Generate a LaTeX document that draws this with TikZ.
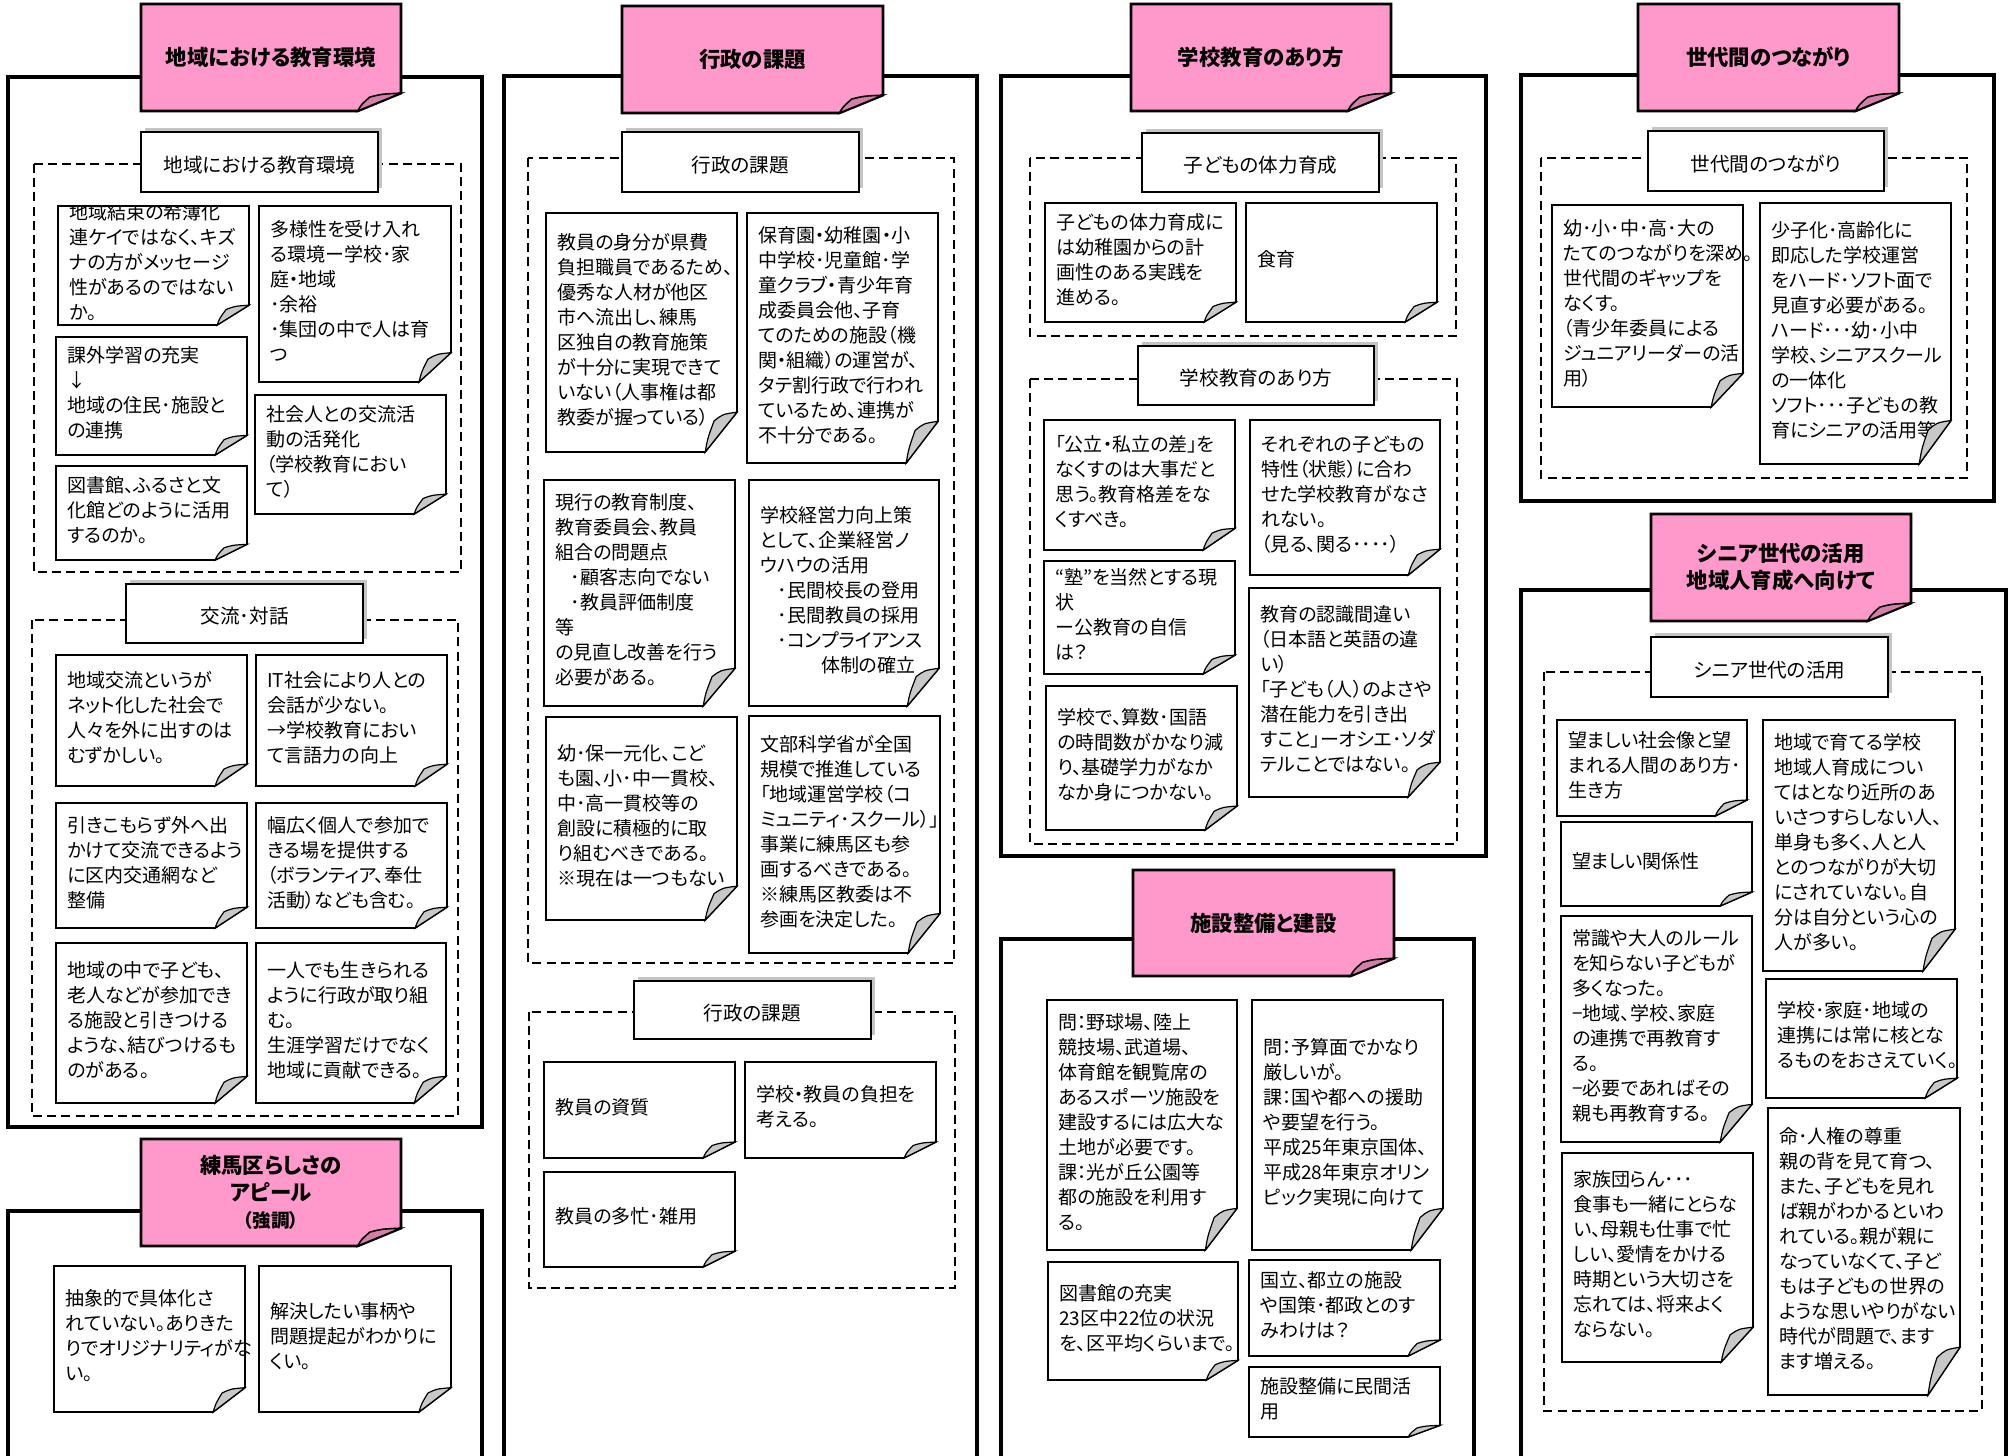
\documentclass[tikz,border=0pt]{standalone}
\usepackage{fontspec}
\setmainfont{Noto Sans CJK JP}[RawFeature=+palt]
\definecolor{pinkfill}{HTML}{FF99CC}
\definecolor{pinkfold}{HTML}{D47FAA}
\definecolor{foldgray}{HTML}{C8C8C8}
\definecolor{shadowgray}{HTML}{C4C4C4}
\tikzset{
  outerframe/.style={draw=black, line width=1.7pt},
  dashframe/.style={draw=black, line width=1.3pt, dash pattern=on 4.5pt off 2.6pt},
  notebody/.style={draw=black, fill=white, line width=0.8pt},
  notefold/.style={draw=black, fill=foldgray, line width=0.6pt},
  titlebody/.style={draw=black, fill=pinkfill, line width=1.3pt},
  titlefold/.style={draw=black, fill=pinkfold, line width=0.8pt},
  subbox/.style={draw=black, fill=white, line width=0.9pt},
  subshadow/.style={fill=shadowgray},
  notetext/.style={font=\fontsize{9.5}{12.5}\selectfont, align=left, inner sep=0pt, anchor=west},
  subtext/.style={font=\fontsize{9.8}{12}\selectfont, inner sep=0pt},
  titletext/.style={font=\fontsize{10.7}{13.5}\selectfont\bfseries, align=center, inner sep=0pt},
}
% note: name x1 y1 x2 y2 text
\newcommand{\notebox}[6]{%
  \pgfmathsetmacro{\fw}{(#4-#2)/6}\pgfmathsetmacro{\fh}{(#5-#3)/6}%
  \draw[notebody] (#2,#3) -- (#4,#3) -- (#4,#5-\fh) -- (#4-\fw,#5) -- (#2,#5) -- cycle;
  \begin{scope}
    \clip (#2,#3) rectangle (#4+30,#5);
    \node[notetext] (#1) at (#2+11,{(#3+#5)/2-3}) {#6};
  \end{scope}
  \filldraw[notefold] (#4-\fw,#5) .. controls (#4-0.92*\fw,#5-0.35*\fh) .. (#4-0.72*\fw,#5-0.78*\fh)
     .. controls (#4-0.45*\fw,#5-0.95*\fh) .. (#4,#5-\fh) -- cycle;
}
% title: name x1 y1 x2 y2 text
\newcommand{\titlebox}[6]{%
  \pgfmathsetmacro{\fw}{(#4-#2)/6}\pgfmathsetmacro{\fh}{(#5-#3)/6}%
  \draw[titlebody] (#2,#3) -- (#4,#3) -- (#4,#5-\fh) -- (#4-\fw,#5) -- (#2,#5) -- cycle;
  \filldraw[titlefold] (#4-\fw,#5) .. controls (#4-0.92*\fw,#5-0.35*\fh) .. (#4-0.72*\fw,#5-0.78*\fh)
     .. controls (#4-0.45*\fw,#5-0.95*\fh) .. (#4,#5-\fh) -- cycle;
  \node[titletext] (#1) at ({(#2+#4)/2},{(#3+#5)/2}) {#6};
}
% subheader: name x1 y1 x2 y2 text
\newcommand{\subhead}[6]{%
  \fill[subshadow] (#2+4,#3-4) rectangle (#4+4,#5-4);
  \filldraw[subbox] (#2,#3) rectangle (#4,#5);
  \node[subtext] (#1) at ({(#2+#4)/2},{(#3+#5)/2+3}) {#6};
}
\begin{document}
\begin{tikzpicture}[x=0.5pt,y=-0.5pt]
\useasboundingbox (0,0) rectangle (2015,1456);
\fill[white] (0,0) rectangle (2015,1456);

% ---------------- Column 1 ----------------
\draw[outerframe] (8,77) rectangle (482,1127);
\draw[dashframe] (34,164) rectangle (461,572);
\draw[dashframe] (32,620) rectangle (458,1116);
\draw[outerframe] (8,1211) rectangle (482,1470);

\subhead{s1a}{141}{132}{378}{192}{地域における教育環境}
\notebox{n1a1}{58}{206}{249}{325}{地域結束の希薄化\\連ケイではなく、キズ\\ナの方がメッセージ\\性があるのではない\\か。}
\notebox{n1a2}{259}{206}{451}{382}{多様性を受け入れ\\る環境ー学校･家\\庭・地域\\･余裕\\･集団の中で人は育\\つ}
\notebox{n1a3}{56}{337}{247}{455}{課外学習の充実\\↓\\地域の住民･施設と\\の連携}
\notebox{n1a4}{255}{395}{446}{514}{社会人との交流活\\動の活発化\\（学校教育におい\\て）}
\notebox{n1a5}{56}{466}{247}{560}{図書館、ふるさと文\\化館どのように活用\\するのか。}

\subhead{s1b}{126}{584}{363}{643}{交流･対話}
\notebox{n1b1}{56}{655}{247}{786}{地域交流というが\\ネット化した社会で\\人々を外に出すのは\\むずかしい。}
\notebox{n1b2}{256}{655}{447}{786}{IT社会により人との\\会話が少ない。\\→学校教育におい\\て言語力の向上}
\notebox{n1b3}{56}{803}{247}{928}{引きこもらず外へ出\\かけて交流できるよう\\に区内交通網など\\整備}
\notebox{n1b4}{256}{803}{447}{928}{幅広く個人で参加で\\きる場を提供する\\（ボランティア、奉仕\\活動）なども含む。}
\notebox{n1b5}{56}{943}{247}{1103}{地域の中で子ども、\\老人などが参加でき\\る施設と引きつける\\ような、結びつけるも\\のがある。}
\notebox{n1b6}{256}{943}{446}{1103}{一人でも生きられる\\ように行政が取り組\\む。\\生涯学習だけでなく\\地域に貢献できる。}

\notebox{n1c1}{54}{1266}{245}{1412}{抽象的で具体化さ\\れていない。ありきた\\りでオリジナリティがな\\い。}
\notebox{n1c2}{259}{1266}{451}{1412}{解決したい事柄や\\問題提起がわかりに\\くい。}

\titlebox{t1a}{141}{4}{401}{111}{地域における教育環境}
\titlebox{t1b}{141}{1139}{401}{1246}{練馬区らしさの\\アピール\\{\fontsize{9.3}{12}\selectfont （強調）}}

% ---------------- Column 2 ----------------
\draw[outerframe] (504,76) rectangle (977,1470);
\draw[dashframe] (528,158) rectangle (954,963);
\draw[dashframe] (529,1012) rectangle (955,1288);

\subhead{s2a}{622}{132}{859}{192}{行政の課題}
\notebox{n2a1}{546}{213}{737}{452}{教員の身分が県費\\負担職員であるため、\\優秀な人材が他区\\市へ流出し、練馬\\区独自の教育施策\\が十分に実現できて\\いない（人事権は都\\教委が握っている）}
\notebox{n2a2}{747}{213}{938}{463}{保育園・幼稚園・小\\中学校･児童館･学\\童クラブ・青少年育\\成委員会他、子育\\てのための施設（機\\関・組織）の運営が、\\タテ割行政で行われ\\ているため、連携が\\不十分である。}
\notebox{n2a3}{544}{480}{735}{706}{現行の教育制度、\\教育委員会、教員\\組合の問題点\\\hspace*{0.8em}･顧客志向でない\\\hspace*{0.8em}･教員評価制度\\等\\の見直し改善を行う\\必要がある。}
\notebox{n2a4}{749}{480}{939}{706}{学校経営力向上策\\として、企業経営ノ\\ウハウの活用\\\hspace*{0.9em}･民間校長の登用\\\hspace*{0.9em}･民間教員の採用\\\hspace*{0.9em}･コンプライアンス\\\hspace*{3.2em}体制の確立}
\notebox{n2a5}{546}{717}{737}{920}{幼･保一元化、こど\\も園、小･中一貫校、\\中･高一貫校等の\\創設に積極的に取\\り組むべきである。\\※現在は一つもない}
\notebox{n2a6}{749}{716}{940}{953}{文部科学省が全国\\規模で推進している\\「地域運営学校（コ\\ミュニティ･スクール）」\\事業に練馬区も参\\画するべきである。\\※練馬区教委は不\\参画を決定した。}

\subhead{s2b}{634}{981}{871}{1039}{行政の課題}
\notebox{n2b1}{544}{1062}{735}{1158}{教員の資質}
\notebox{n2b2}{745}{1062}{936}{1158}{学校・教員の負担を\\考える。}
\notebox{n2b3}{544}{1172}{735}{1267}{教員の多忙･雑用}

\titlebox{t2a}{622}{6}{883}{113}{行政の課題}

% ---------------- Column 3 ----------------
\draw[outerframe] (1001,76) rectangle (1486,856);
\draw[dashframe] (1030,158) rectangle (1456,336);
\draw[dashframe] (1030,379) rectangle (1457,844);
\draw[outerframe] (1001,939) rectangle (1474,1470);

\subhead{s3a}{1142}{133}{1379}{192}{子どもの体力育成}
\notebox{n3a1}{1045}{203}{1236}{322}{子どもの体力育成に\\は幼稚園からの計\\画性のある実践を\\進める。}
\notebox{n3a2}{1246}{203}{1437}{322}{食育}

\subhead{s3b}{1138}{346}{1374}{405}{学校教育のあり方}
\notebox{n3b1}{1044}{420}{1235}{550}{「公立・私立の差」を\\なくすのは大事だと\\思う。教育格差をな\\くすべき。}
\notebox{n3b2}{1250}{420}{1440}{575}{それぞれの子どもの\\特性（状態）に合わ\\せた学校教育がなさ\\れない。\\（見る、関る････）}
\notebox{n3b3}{1044}{561}{1235}{674}{“塾”を当然とする現\\状\\ー公教育の自信\\は？}
\notebox{n3b4}{1046}{686}{1237}{830}{学校で、算数･国語\\の時間数がかなり減\\り、基礎学力がなか\\なか身につかない。}
\notebox{n3b5}{1249}{588}{1440}{797}{教育の認識間違い\\（日本語と英語の違\\い）\\「子ども（人）のよさや\\潜在能力を引き出\\すこと」ーオシエ･ソダ\\テルことではない。}

\notebox{n3c1}{1047}{1000}{1237}{1250}{問：野球場、陸上\\競技場、武道場、\\体育館を観覧席の\\あるスポーツ施設を\\建設するには広大な\\土地が必要です。\\課：光が丘公園等\\都の施設を利用す\\る。}
\notebox{n3c2}{1252}{1000}{1443}{1250}{問：予算面でかなり\\厳しいが。\\課：国や都への援助\\や要望を行う。\\平成25年東京国体、\\平成28年東京オリン\\ピック実現に向けて}
\notebox{n3c3}{1048}{1262}{1238}{1380}{図書館の充実\\23区中22位の状況\\を、区平均くらいまで。}
\notebox{n3c4}{1249}{1260}{1440}{1356}{国立、都立の施設\\や国策･都政とのす\\みわけは？}
\notebox{n3c5}{1249}{1367}{1440}{1437}{施設整備に民間活\\用}

\titlebox{t3a}{1131}{4}{1391}{111}{学校教育のあり方}
\titlebox{t3b}{1133}{870}{1394}{976}{施設整備と建設}

% ---------------- Column 4 ----------------
\draw[outerframe] (1521,75) rectangle (1994,501);
\draw[dashframe] (1541,158) rectangle (1967,478);
\draw[outerframe] (1521,590) rectangle (2006,1470);
\draw[dashframe] (1544,672) rectangle (1982,1411);

\subhead{s4a}{1648}{131}{1884}{191}{世代間のつながり}
\notebox{n4a1}{1552}{205}{1743}{407}{幼･小･中･高･大の\\たてのつながりを深め。\\世代間のギャップを\\なくす。\\（青少年委員による\\ジュニアリーダーの活\\用）}
\notebox{n4a2}{1760}{203}{1951}{464}{少子化･高齢化に\\即応した学校運営\\をハード･ソフト面で\\見直す必要がある。\\ハード･･･幼･小中\\学校、シニアスクール\\の一体化\\ソフト･･･子どもの教\\育にシニアの活用等}

\subhead{s4b}{1651}{637}{1888}{697}{シニア世代の活用}
\notebox{n4b1}{1557}{720}{1747}{816}{望ましい社会像と望\\まれる人間のあり方･\\生き方}
\notebox{n4b2}{1561}{822}{1752}{906}{望ましい関係性}
\notebox{n4b3}{1561}{916}{1752}{1142}{常識や大人のルール\\を知らない子どもが\\多くなった。\\−地域、学校、家庭\\の連携で再教育す\\る。\\−必要であればその\\親も再教育する。}
\notebox{n4b4}{1562}{1153}{1753}{1362}{家族団らん･･･\\食事も一緒にとらな\\い、母親も仕事で忙\\しい、愛情をかける\\時期という大切さを\\忘れては、将来よく\\ならない。}
\notebox{n4b5}{1763}{720}{1955}{971}{地域で育てる学校\\地域人育成につい\\てはとなり近所のあ\\いさつすらしない人、\\単身も多く、人と人\\とのつながりが大切\\にされていない。自\\分は自分という心の\\人が多い。}
\notebox{n4b6}{1766}{979}{1957}{1098}{学校･家庭･地域の\\連携には常に核とな\\るものをおさえていく。}
\notebox{n4b7}{1768}{1108}{1960}{1395}{命･人権の尊重\\親の背を見て育つ、\\また、子どもを見れ\\ば親がわかるといわ\\れている。親が親に\\なっていなくて、子ど\\もは子どもの世界の\\ような思いやりがない\\時代が問題で、ます\\ます増える。}

\titlebox{t4a}{1638}{4}{1899}{111}{世代間のつながり}
\titlebox{t4b}{1651}{514}{1911}{621}{シニア世代の活用\\地域人育成へ向けて}
\end{tikzpicture}
\end{document}
